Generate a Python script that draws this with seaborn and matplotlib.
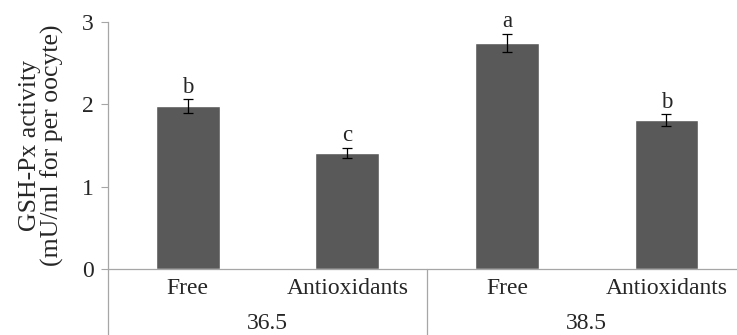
import matplotlib
matplotlib.use('Agg')
import matplotlib.pyplot as plt
import pandas as pd
import seaborn as sns

# values
treatments = ['Free', 'Antioxidants', 'Free', 'Antioxidants']
temperatures = ['36.5', '38.5']
activity = [1.98, 1.41, 2.75, 1.81]
errors = [0.08, 0.06, 0.11, 0.07]
letters = ['b', 'c', 'a', 'b']

sns.set_theme(style='white')
plt.rcParams['font.family'] = ['Liberation Serif', 'DejaVu Serif']

df = pd.DataFrame({'pos': range(len(activity)), 'value': activity})

fig = plt.figure(figsize=(7.37, 3.35), dpi=100)
ax = fig.add_axes([0.1465, 0.197, 0.866, 0.737])

sns.barplot(data=df, x='pos', y='value', color='#595959', width=0.4,
            saturation=1, errorbar=None, ax=ax)
ax.errorbar(df['pos'], df['value'], yerr=errors, fmt='none', ecolor='black',
            elinewidth=0.9, capsize=3.5, capthick=0.9)

for x, v, e, t in zip(df['pos'], activity, errors, letters):
    ax.text(x, v + e + 0.02, t, ha='center', va='bottom', fontsize=16.5)

ax.set_xlim(-0.5, 3.5)
ax.set_ylim(0, 3)
ax.set_yticks([0, 1, 2, 3])
ax.set_yticklabels(['0', '1', '2', '3'], fontsize=17)
ax.set_xticks([])
ax.set_xlabel('')
ax.set_ylabel('GSH-Px activity\n(mU/ml for per oocyte)', fontsize=18.5, labelpad=13,
              linespacing=1.0)

ax.tick_params(axis='y', left=True, length=5, width=0.8, color='#a6a6a6', pad=5)
for side in ['top', 'right']:
    ax.spines[side].set_visible(False)
for side in ['left', 'bottom']:
    ax.spines[side].set_color('#a6a6a6')
    ax.spines[side].set_linewidth(0.9)

# two-level category axis
for i, t in enumerate(treatments):
    ax.text((i + 0.5) / 4, -0.08, t, transform=ax.transAxes, ha='center',
            va='center', fontsize=17)
for i, t in enumerate(temperatures):
    ax.text((i + 0.5) / 2, -0.222, t, transform=ax.transAxes, ha='center',
            va='center', fontsize=17)
for xs in [0, 0.5, 1]:
    ax.plot([xs, xs], [0, -0.3], transform=ax.transAxes, color='#a6a6a6',
            lw=0.9, clip_on=False)

fig.savefig('out.png', dpi=100)
